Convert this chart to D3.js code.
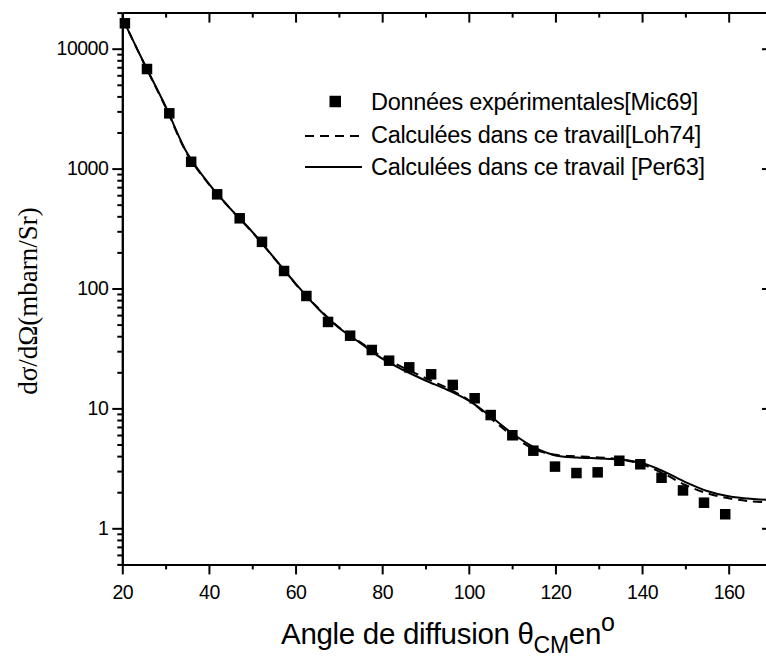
<!DOCTYPE html>
<html>
<head>
<meta charset="utf-8">
<script src="https://cdn.jsdelivr.net/npm/d3@7"></script>
<style>
  body { margin: 0; background: #fff; }
  .axis path, .axis line { stroke: #000; stroke-width: 2; }
  .axis text { font-family: "Liberation Sans", Arial, sans-serif; font-size: 19.5px; letter-spacing: -0.5px; fill: #000; }
</style>
</head>
<body>
<div class="graph-container"></div>
<script>
// Data
var angleExp = [20.6, 25.7, 30.85, 35.9, 41.9, 47.1, 52.25, 57.35, 62.5, 67.5, 72.6, 77.6, 81.6, 86.25, 91.3,
                96.3, 101.35, 105.05, 110.05, 114.9, 119.9, 124.85, 129.75, 134.75, 139.6, 144.5, 149.45, 154.3, 159.2]
var sigmaExp = [16290, 6770, 2890, 1140, 610, 385, 245, 140, 86.6, 52.6, 40.4, 30.7, 25.0, 22.0, 19.25,
                15.7, 12.15, 8.8, 5.97, 4.44, 3.27, 2.89, 2.93, 3.66, 3.42, 2.64, 2.07, 1.635, 1.31]

var angleCalc = [20, 25, 30, 35, 40, 45, 50, 55, 60, 65, 70, 75, 80, 85, 90, 95, 100,
                 105, 110, 115, 120, 125, 130, 135, 140, 145, 150, 155, 160, 165, 170]
var sigmaLoh74 = [18000, 7550, 3250, 1320, 740, 460, 295, 180, 109, 70, 47.5, 35.5, 27, 21.8, 17.9, 14.8, 11.7,
                  8.3, 5.95, 4.6, 4.1, 3.98, 3.9, 3.76, 3.42, 2.85, 2.3, 1.96, 1.78, 1.68, 1.64]
var sigmaPer63 = [18000, 7600, 3300, 1340, 745, 462, 297, 181, 110, 69, 47, 35, 26, 20.8, 17.1, 14.3, 11.6,
                  8.6, 6.2, 4.75, 4.05, 3.9, 3.83, 3.75, 3.5, 2.98, 2.43, 2.05, 1.85, 1.76, 1.72]

var xMajor = [20, 40, 60, 80, 100, 120, 140, 160]
var xMinor = [30, 50, 70, 90, 110, 130, 150, 170]
var yMajor = [1, 10, 100, 1000, 10000]
var yMinor = [0.5, 0.6, 0.7, 0.8, 0.9, 2, 3, 4, 5, 6, 7, 8, 9, 20, 30, 40, 50, 60, 70, 80, 90,
              200, 300, 400, 500, 600, 700, 800, 900, 2000, 3000, 4000, 5000, 6000, 7000, 8000, 9000, 20000]

var legendLabels = ["Données expérimentales[Mic69]", "Calculées dans ce travail[Loh74]", "Calculées dans ce travail [Per63]"]

// SVG setup
var margin = {top: 12.6, right: -6, bottom: 94.6, left: 122.3},
    fullWidth = 766, fullHeight = 659,
    width = fullWidth - margin.left - margin.right,
    height = fullHeight - margin.top - margin.bottom

var x = d3.scaleLinear().domain([20, 170]).range([0, width])
var y = d3.scaleLog().domain([0.5, 20000]).range([height, 0])

var svg = d3.select(".graph-container").append("svg")
    .attr("width", fullWidth)
    .attr("height", fullHeight)
    .style("display", "block")
    .append("g")
    .attr("transform", "translate(" + margin.left + "," + margin.top + ")")

svg.append("clipPath").attr("id", "clip")
  .append("rect").attr("width", width).attr("height", height)

// Axes: minor ticks first, then major with labels
function addAxis(axis, transform, ticks, size, labels, pad) {
  var g = svg.append("g").attr("class", "axis").attr("transform", transform)
    .call(axis.tickValues(ticks).tickSize(size).tickSizeOuter(0).tickPadding(pad || 4)
      .tickFormat(labels ? d3.format("d") : ""))
  g.attr("font-family", null).attr("font-size", null)
  return g
}
addAxis(d3.axisBottom(x), "translate(0," + height + ")", xMinor, 5, false)
addAxis(d3.axisBottom(x), "translate(0," + height + ")", xMajor, 10, true, 11)
addAxis(d3.axisTop(x), "translate(0,0)", xMinor, -5, false)
addAxis(d3.axisTop(x), "translate(0,0)", xMajor, -10, false)
addAxis(d3.axisLeft(y), "translate(0,0)", yMinor, 5, false)
addAxis(d3.axisLeft(y), "translate(0,0)", yMajor, 10, true)
addAxis(d3.axisRight(y), "translate(" + width + ",0)", yMinor, -5, false)
addAxis(d3.axisRight(y), "translate(" + width + ",0)", yMajor, -10, false)

// Curves
var line = d3.line()
    .x(d => x(d[0]))
    .y(d => y(d[1]))
    .curve(d3.curveCatmullRom.alpha(0.5))

var plot = svg.append("g").attr("clip-path", "url(#clip)")

plot.append("path")
  .datum(angleCalc.map((a, i) => [a, sigmaLoh74[i]]))
  .attr("d", line)
  .attr("fill", "none")
  .attr("stroke", "#000")
  .attr("stroke-width", 2)
  .attr("stroke-dasharray", "9,6")

plot.append("path")
  .datum(angleCalc.map((a, i) => [a, sigmaPer63[i]]))
  .attr("d", line)
  .attr("fill", "none")
  .attr("stroke", "#000")
  .attr("stroke-width", 2)

// Experimental points
var sq = 10.5
svg.selectAll(".pt")
  .data(angleExp.map((a, i) => [a, sigmaExp[i]]))
  .enter().append("rect")
  .attr("class", "pt")
  .attr("x", d => x(d[0]) - sq / 2)
  .attr("y", d => y(d[1]) - sq / 2)
  .attr("width", sq)
  .attr("height", sq)
  .attr("fill", "#000")

// Legend
var root = d3.select("svg")
var lg = root.append("g")
var rows = [101.5, 136, 167]
lg.append("rect").attr("x", 329.5).attr("y", rows[0] - 5.75).attr("width", 11.5).attr("height", 11.5).attr("fill", "#000")
lg.append("line").attr("x1", 305).attr("x2", 362).attr("y1", rows[1]).attr("y2", rows[1])
  .attr("stroke", "#000").attr("stroke-width", 2).attr("stroke-dasharray", "9,6")
lg.append("line").attr("x1", 305).attr("x2", 362).attr("y1", rows[2]).attr("y2", rows[2])
  .attr("stroke", "#000").attr("stroke-width", 2)
lg.selectAll("text")
  .data(legendLabels)
  .enter().append("text")
  .attr("x", 371)
  .attr("y", (d, i) => [110, 143.3, 175][i])
  .attr("font-family", "'Liberation Sans', Arial, sans-serif")
  .attr("font-size", 23.5)
  .attr("letter-spacing", -0.3)
  .text(d => d)

// Axis titles
var xt = root.append("text")
  .attr("x", 281).attr("y", 644)
  .attr("font-family", "'Liberation Sans', Arial, sans-serif")
  .attr("font-size", 29.5)
  .attr("letter-spacing", -0.3)
xt.append("tspan").text("Angle de diffusion θ")
xt.append("tspan").attr("font-size", 23).attr("dy", 9.3).text("CM")
xt.append("tspan").attr("dy", -9.3).text("en")
xt.append("tspan").attr("font-size", 25).attr("dy", -13).text("o")

root.append("text")
  .attr("transform", "translate(37,301) rotate(-90)")
  .attr("text-anchor", "middle")
  .attr("font-family", "'Liberation Serif', 'Times New Roman', serif")
  .attr("font-size", 27)
  .text("dσ/dΩ(mbarn/Sr)")
</script>
</body>
</html>
